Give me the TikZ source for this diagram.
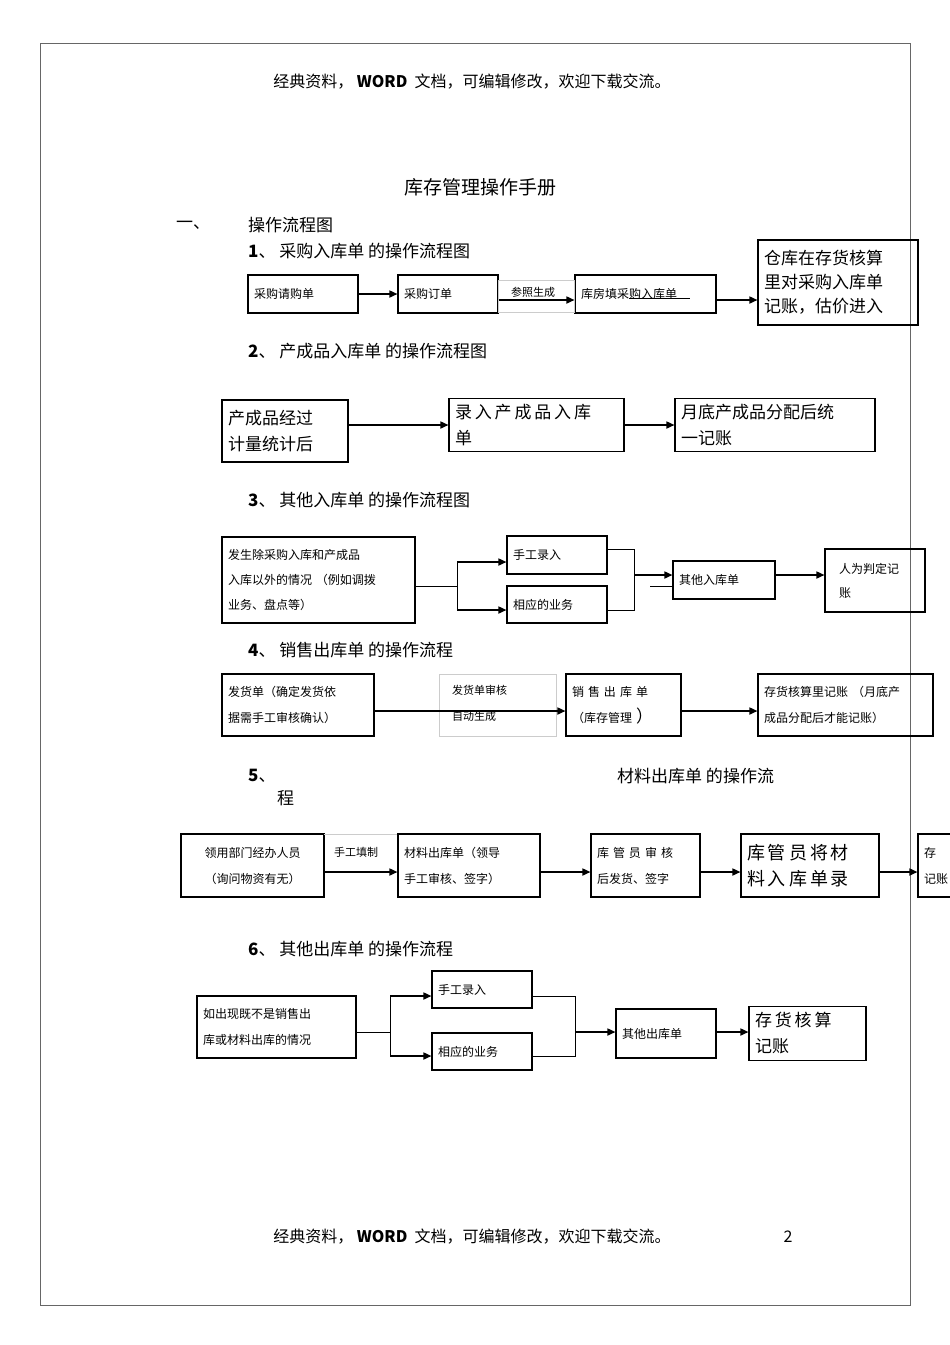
\documentclass[tikz,border=0pt]{standalone}
\usepackage{fontspec}
\setmainfont{Noto Sans CJK SC}
\XeTeXlinebreaklocale "zh"
\usetikzlibrary{arrows.meta}
\newcommand\fs[2]{\fontsize{#1}{#2}\selectfont}
\newcommand\bx[7]{\pgfmathsetmacro\tw{#4-#2-12}\pgfmathsetmacro\bw{#4-#2}\pgfmathsetmacro\bh{#5-#3}%
\node[box,minimum width=\bw pt,minimum height=\bh pt,text width=\tw pt,#6] (#1) at ({(#2+#4)/2},{(#3+#5)/2}) {#7};}
\tikzset{box/.style={draw,line width=1.1pt,align=left,inner sep=6pt,anchor=center},
 arr/.style={line width=1.6pt,-{Triangle[length=8pt,width=7pt]}},
 ln/.style={line width=1pt},
 lbl/.style={draw=black!20,line width=0.6pt,fill=white}}
\begin{document}
\begin{tikzpicture}[x=1pt,y=-1pt]
\useasboundingbox (0,0) rectangle (950,1345);
\clip (0,0) rectangle (950,1345);
\draw[black!60,line width=1pt] (40,43) rectangle (910,1305);
\node (hd) at (472,82) {\fs{16}{18}经典资料，\ \textbf{WORD}\ \ 文档，可编辑修改，欢迎下载交流。};
\node (ft) at (472,1237) {\fs{16}{18}经典资料，\ \textbf{WORD}\ \ 文档，可编辑修改，欢迎下载交流。};
\node (pg) at (788,1237) {\fs{16}{18}2};
\node (tt) at (480,187) {\fs{19}{21}库存管理操作手册};
\node (s0) at (193,225) {\fs{17}{19}一、};
\node[anchor=west,inner sep=0] (s0b) at (248,225) {\fs{17}{19}操作流程图};
% 1
\node[anchor=west,inner sep=0] (h1) at (248,251) {\fs{17}{19}\textbf{1}、 采购入库单 的操作流程图};
\bx{a1}{248}{275}{358}{313}{font=\fs{12}{14}}{采购请购单}
\bx{a2}{398}{275}{498}{313}{font=\fs{12}{14}}{采购订单}
\bx{a3}{575}{275}{716}{313}{font=\fs{12}{14}}{库房填采购入库单}
\bx{a4}{758}{240}{918}{325}{font=\fs{17}{24}}{仓库在存货核算\\里对采购入库单\\记账，估价进入}
\node[lbl,minimum width=76pt,minimum height=32pt] (l1) at (536,296) {};
\node (l1t) at (533,292) {\fs{11}{12}参照生成};
\draw[ln,line width=0.6pt] (629,298) -- (690,298);
\draw[arr] (a1) -- (a2);
\draw[arr] (a2.east|-0,300) -- (a3.west|-0,300);
\draw[arr] (a3.east|-0,300) -- (a4.west|-0,300);
% 2
\node[anchor=west,inner sep=0] (h2) at (248,351) {\fs{17}{19}\textbf{2}、 产成品入库单 的操作流程图};
\bx{b1}{222}{400}{348}{462}{font=\fs{17}{26}}{产成品经过\\计量统计后}
\bx{b2}{449}{400}{624}{450}{font=\fs{17}{26}}{录\,入\,产\,成\,品\,入\,库\\单}
\bx{b3}{675}{400}{875}{450}{font=\fs{17}{26}}{月底产成品分配后统\\一记账}
\draw[arr] (b1.east|-0,425) -- (b2.west|-0,425);
\draw[arr] (b2.east|-0,425) -- (b3.west|-0,425);
% 3
\node[anchor=west,inner sep=0] (h3) at (248,500) {\fs{17}{19}\textbf{3}、 其他入库单 的操作流程图};
\bx{c1}{222}{537}{415}{623}{font=\fs{12}{25}}{发生除采购入库和产成品\\入库以外的情况 （例如调拨\\业务、盘点等）}
\bx{c2}{507}{536}{607}{574}{font=\fs{12}{14}}{手工录入}
\bx{c3}{507}{586}{607}{623}{font=\fs{12}{14}}{相应的业务}
\bx{c4}{673}{561}{775}{599}{font=\fs{12}{14}}{其他入库单}
\bx{c5}{825}{549}{925}{612}{font=\fs{12}{24}}{\hspace{8pt}人为判定记\\\hspace*{8pt}账}
\coordinate (c1s) at (457,586);
\draw[ln] (c1.east|-0,586) -- (c1s);
\draw[ln] (457,562) -- (457,610);
\draw[arr] (457,562) -- (c2.west|-0,562);
\draw[arr] (457,610) -- (c3.west|-0,610);
\draw[ln,line width=0.6pt] (c2.east|-0,549) -- (634,549) -- (634,610) -- (c3.east|-0,610);
\draw[arr] (634,575) -- (c4.west|-0,575);
\draw[ln,line width=0.6pt] (650,586) -- (c4.west|-0,586);
\draw[arr] (c4.east|-0,575) -- (c5.west|-0,575);
% 4
\node[anchor=west,inner sep=0] (h4) at (248,650) {\fs{17}{19}\textbf{4}、 销售出库单 的操作流程};
\node[lbl,minimum width=117pt,minimum height=62pt] (l4) at (498,705) {};
\node[anchor=west,inner sep=0] (l4a) at (452,690) {\fs{11}{12}发货单审核};
\node[anchor=west,inner sep=0] (l4b) at (452,716) {\fs{11}{12}自动生成};
\bx{d1}{222}{674}{374}{736}{font=\fs{12}{26}}{发货单（确定发货依\\据需手工审核确认）}
\bx{d2}{566}{674}{681}{736}{font=\fs{12}{26}}{销\,\,售\,\,出\,\,库\,\,单\\（库存管理 \fs{17}{17}）}
\bx{d3}{758}{674}{933}{736}{font=\fs{12}{26}}{存货核算里记账 （月底产\\成品分配后才能记账）}
\draw[arr] (d1.east|-0,711) -- (d2.west|-0,711);
\draw[arr] (d2.east|-0,711) -- (d3.west|-0,711);
% 5
\node[anchor=west,inner sep=0] (h5) at (248,776) {\fs{17}{19}\textbf{5}、};
\node[anchor=west,inner sep=0] (h5b) at (617,776) {\fs{17}{19}材料出库单 的操作流};
\node[anchor=west,inner sep=0] (h5c) at (277,798) {\fs{17}{19}程};
\bx{e1}{181}{834}{324}{897}{align=center,font=\fs{12}{26}}{领用部门经办人员\\（询问物资有无）}
\node (l5) at (356,852) {\fs{11}{12}手工填制};
\draw[black!20,line width=0.6pt] (324,834) -- (398,834);
\bx{e2}{398}{834}{540}{897}{font=\fs{12}{26}}{材料出库单（领导\\手工审核、签字）}
\bx{e3}{591}{834}{700}{897}{font=\fs{12}{26}}{库\,\,管\,\,员\,\,审\,\,核\\后发货、签字}
\bx{e4}{741}{834}{879}{897}{font=\fs{18}{26}}{库\,管\,员\,将\,材\\料\,入\,库\,单\,录}
\bx{e5}{918}{834}{1010}{897}{font=\fs{12}{26}}{存\\记账}
\draw[arr] (e1.east|-0,872) -- (e2.west|-0,872);
\draw[arr] (e2.east|-0,872) -- (e3.west|-0,872);
\draw[arr] (e3.east|-0,872) -- (e4.west|-0,872);
\draw[arr] (e4.east|-0,872) -- (e5.west|-0,872);
% 6
\node[anchor=west,inner sep=0] (h6) at (248,949) {\fs{17}{19}\textbf{6}、 其他出库单 的操作流程};
\bx{f1}{197}{996}{356}{1058}{font=\fs{12}{26}}{如出现既不是销售出\\库或材料出库的情况}
\bx{f2}{432}{971}{532}{1008}{font=\fs{12}{14}}{手工录入}
\bx{f3}{432}{1033}{532}{1070}{font=\fs{12}{14}}{相应的业务}
\bx{f4}{616}{1009}{716}{1058}{font=\fs{12}{14}}{其他出库单}
\bx{f5}{749}{1009}{866}{1058}{font=\fs{17}{26}}{存\,货\,核\,算\\记账}
\draw[ln] (f1.east|-0,1032) -- (390,1032);
\draw[ln] (390,996) -- (390,1056);
\draw[arr] (390,996) -- (f2.west|-0,996);
\draw[arr] (390,1056) -- (f3.west|-0,1056);
\draw[ln,line width=0.6pt] (f2.east|-0,996) -- (575,996) -- (575,1056) -- (f3.east|-0,1056);
\draw[arr] (575,1032) -- (f4.west|-0,1032);
\draw[arr] (f4.east|-0,1032) -- (f5.west|-0,1032);
\end{tikzpicture}
\end{document}
